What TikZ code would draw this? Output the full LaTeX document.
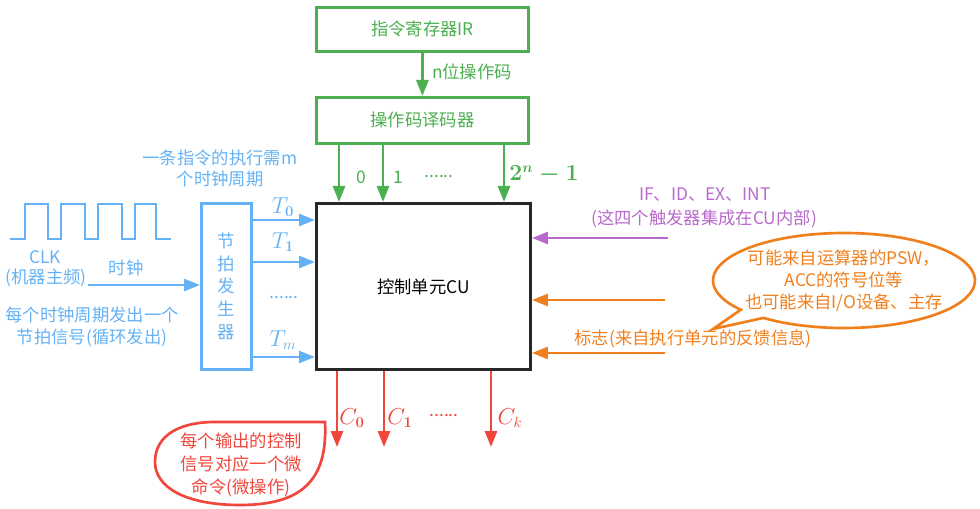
\documentclass[tikz,border=0pt]{standalone}
\usepackage{fontspec}
\usepackage{amsmath}
\setmainfont{Noto Sans CJK SC}
\newfontfamily\lmserif{Latin Modern Roman}
\newcommand{\bsub}[1]{\text{\lmserif\bfseries #1}}
\usetikzlibrary{arrows.meta,calc}
\definecolor{cgreen}{RGB}{76,175,80}
\definecolor{cblue}{RGB}{100,178,245}
\definecolor{cpurple}{RGB}{185,105,205}
\definecolor{corange}{RGB}{240,128,30}
\definecolor{cred}{RGB}{240,70,60}
\definecolor{cdark}{RGB}{40,40,40}
\begin{document}
\begin{tikzpicture}[x=0.75pt,y=0.75pt,
  font={\fontsize{13}{16}\selectfont},
  >={Triangle[length=12pt,width=9pt]},
  box/.style={draw, line width=2.1pt, inner sep=0pt, anchor=north west},
  wire/.style={line width=2pt,->},
  txt/.style={inner sep=0pt, align=center},
  mathlbl/.style={inner sep=0pt, font={\fontsize{16}{18}\selectfont}}]
\useasboundingbox (0,0) rectangle (980,-509);

% instruction register and opcode decoder
\node[box, cgreen, minimum width=159pt, minimum height=33pt] (ir) at (315,-6) {};
\node[txt, cgreen] at (ir.center) {指令寄存器IR};
\node[box, cgreen, minimum width=159pt, minimum height=34.5pt] (dec) at (315,-96) {};
\node[txt, cgreen] at (dec.center) {操作码译码器};
\draw[wire, cgreen] (ir.south) -- (dec.north);
\node[txt, cgreen] at (472,-72) {n位操作码};

% control unit
\node[box, cdark, line width=2.2pt, minimum width=160.5pt, minimum height=124.5pt] (cu) at (315,-202) {};
\node[txt] at (cu.center) {控制单元CU};

% decoder outputs
\draw[wire, cgreen] ($(dec.south west)+(24,0)$) -- ($(cu.north west)+(24,0)$);
\draw[wire, cgreen] ($(dec.south west)+(68,0)$) -- ($(cu.north west)+(68,0)$);
\draw[wire, cgreen] ($(dec.south west)+(189,0)$) -- ($(cu.north west)+(189,0)$);
\node[txt, cgreen] at (361,-177) {0};
\node[txt, cgreen] at (398,-177) {1};
\node[txt, cgreen] at (439,-177) {......};
\node[mathlbl, cgreen] at (544,-175) {$\boldsymbol{2^{n}-1}$};

% clock waveform
\draw[cblue, line width=2pt] (10,-239) -- (25,-239) -- (25,-204) -- (48,-204) -- (48,-239)
  -- (61,-239) -- (61,-204) -- (85,-204) -- (85,-239) -- (98,-239) -- (98,-204) -- (122,-204)
  -- (122,-239) -- (135,-239) -- (135,-204) -- (156,-204) -- (156,-239) -- (171,-239);
\node[txt, cblue] at (45,-257) {CLK};
\node[txt, cblue] at (46,-278) {(机器主频)};
\node[txt, cblue] at (126,-268) {时钟};
\node[txt, cblue] at (92,-315) {每个时钟周期发出一个};
\node[txt, cblue] at (92,-338) {节拍信号(循环发出)};
\node[txt, cblue, font={\fontsize{13}{15.75}\selectfont}] at (220,-168) {一条指令的执行需m\\个时钟周期};

% beat generator
\node[box, cblue, minimum width=37.5pt, minimum height=124.5pt] (gen) at (200,-202) {};
\node[txt, cblue, font={\fontsize{13}{17}\selectfont}] at (gen.center) {节\\拍\\发\\生\\器};
\coordinate (clkin) at (88,-285);
\draw[wire, cblue] (clkin) -- (clkin -| gen.west);
\draw[wire, cblue] ($(gen.north east)+(0,-18)$) -- ($(cu.north west)+(0,-18)$);
\draw[wire, cblue] ($(gen.north east)+(0,-60)$) -- ($(cu.north west)+(0,-60)$);
\draw[wire, cblue] ($(gen.north east)+(0,-155)$) -- ($(cu.north west)+(0,-155)$);
\node[mathlbl, cblue] at (283,-207) {$T_{\bsub{0}}$};
\node[mathlbl, cblue] at (283,-242) {$T_{\bsub{1}}$};
\node[txt, cblue] at (284,-298) {......};
\node[mathlbl, cblue] at (283,-340) {$T_m$};

% inputs on the right
\coordinate (pin) at (668,-238);
\draw[wire, cpurple] (pin) -- (pin -| cu.east);
\node[txt, cpurple] at (705,-195) {IF、ID、EX、INT};
\node[txt, cpurple] at (704,-219) {(这四个触发器集成在CU内部)};
\coordinate (oin1) at (665,-300);
\coordinate (oin2) at (665,-353);
\draw[wire, corange] (oin1) -- (oin1 -| cu.east);
\draw[wire, corange] (oin2) -- (oin2 -| cu.east);
\node[txt, corange] at (693,-339) {标志(来自执行单元的反馈信息)};

% flag source callout
\draw[corange, line width=2pt, fill=white]
  (844,-280.5) ++(232:98.25pt and 35.625pt)
  arc[start angle=232, end angle=578, x radius=98.25pt, y radius=35.625pt]
  -- (713,-329) -- cycle;
\node[txt, corange, font={\fontsize{13}{16.5}\selectfont}] at (844,-281)
  {可能来自运算器的PSW，\\ACC的符号位等\\也可能来自I/O设备、主存};

% control signal outputs
\coordinate (c0) at (337,-447);
\coordinate (c1) at (384,-447);
\coordinate (ck) at (491,-447);
\draw[wire, cred] (c0 |- cu.south) -- (c0);
\draw[wire, cred] (c1 |- cu.south) -- (c1);
\draw[wire, cred] (ck |- cu.south) -- (ck);
\node[mathlbl, cred] at (352,-418) {$C_{\bsub{0}}$};
\node[mathlbl, cred] at (400,-418) {$C_{\bsub{1}}$};
\node[txt, cred] at (444,-416) {......};
\node[mathlbl, cred] at (510,-418) {$C_k$};

% micro-command callout
\draw[cred, line width=2pt]
  (325,-422) .. controls (328,-482) and (300,-505) .. (240,-505)
  .. controls (185,-505) and (155,-487) .. (155,-462)
  .. controls (155,-435) and (180,-422) .. (215,-422) -- cycle;
\node[txt, cred, font={\fontsize{13}{17}\selectfont}] at (241,-465)
  {每个输出的控制\\信号对应一个微\\命令(微操作)};
\end{tikzpicture}
\end{document}
